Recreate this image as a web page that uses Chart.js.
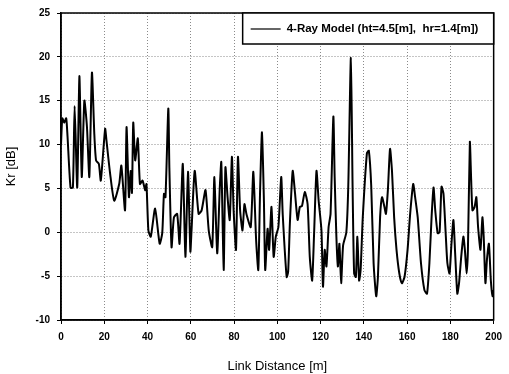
<!DOCTYPE html>
<html>
<head>
<meta charset="utf-8">
<title>Kr vs Link Distance</title>
<script src="https://cdn.jsdelivr.net/npm/chart.js@4/dist/chart.umd.min.js"></script>
<style>
html, body { margin: 0; padding: 0; background: #fff; }
#wrap { width: 509px; height: 374px; }
</style>
</head>
<body>
<div id="wrap"><canvas id="krplot"></canvas></div>
<script>
// link distance [m] and Kr [dB]
var distance = [
  0, 0.6, 1.5, 2.4, 3, 4.4, 5.5, 6.3, 7.5, 8.5, 9.6, 10.8, 12, 13.1, 14.3, 15.4, 16.2, 17.5, 18.4, 20.4,
  21, 22.7, 24.6, 26.9, 27.9, 29.6, 30.3, 31.4, 32.2, 32.8, 33.4, 34.3, 35.5, 36.5, 37.7, 38.9, 39.5, 40.4, 41.5, 43.5,
  45.6, 46.8, 47.6, 48.3, 49.6, 50.1, 51.1, 52.2, 53.7, 54.8, 56.3, 57.5, 58.7, 59.8, 60.3, 61.8, 63.6, 65, 66.8, 68.3,
  69.9, 70.9, 72.2, 73.4, 74.1, 75.2, 76, 77, 78, 79, 79.8, 80.9, 81.8, 82.8, 83.9, 84.8, 85.8, 87.7, 88.9, 90.2,
  91.2, 92, 92.9, 93.8, 94.4, 95.5, 96.2, 97.3, 98.3, 99.3, 100.5, 101.8, 102.5, 104.3, 105, 105.8, 107.1, 108.2, 109.4, 110.4,
  111.4, 112.7, 114, 115, 116.1, 117, 118.1, 119.1, 120.4, 121.1, 121.9, 122.7, 123.7, 124.6, 125.9, 126.5, 127.3, 128, 128.7, 129.5,
  130.4, 131.9, 132.8, 134, 134.8, 135.5, 136.3, 137, 137.8, 138.5, 139.5, 141.4, 142.3, 143.4, 144.5, 145.7, 146.5, 147.5, 148.4, 149.5,
  150.2, 151.1, 152.1, 153, 154, 155.1, 156.4, 157.6, 158.8, 160.2, 161.4, 162.8, 163.7, 164.9, 166.4, 168, 169.2, 170.3, 171.3, 172.2,
  173, 174.1, 175, 175.9, 176.8, 177.9, 178.6, 179.6, 180.5, 181.4, 182.2, 183.2, 184, 185, 186, 186.7, 187.5, 188.1, 189, 189.6,
  190.2, 191.2, 192, 192.8, 193.9, 194.8, 195.4, 196.2, 196.9, 197.8, 198.7, 199.5, 200
];
var kr = [
  10, 13, 12.5, 13, 11, 5.1, 5.1, 14.4, 5.1, 17.8, 6.3, 15, 12, 6.3, 18.2, 11.2, 8.2, 7.8, 5.9, 11.8,
  10.5, 6.7, 3.6, 5.5, 7.6, 2.5, 12, 4, 7, 4.5, 12.5, 8.2, 10.7, 5.5, 5.9, 4.8, 5.5, 0.2, -0.5, 2.7,
  -1.3, -0.1, 4.4, 4, 14.1, 7.3, -1.7, 1.7, 2.1, -1.3, 7.8, -2.8, 6.9, -2.2, 0, 7, 2.1, 2.5, 4.8, 0.2,
  -1.7, 6.3, -2.4, 5.1, 8, -4.3, 7.4, 4, 1.4, 8.6, 2.5, -2, 8.6, 2.5, 0.2, 3.2, 2, 0.6, 6.9, -0.9,
  -4.3, 4.4, 11.4, 3.6, -4.3, 0.4, -2, 2.9, -2.8, -0.5, 0.6, 6.3, 2, -5.1, -4.5, 1, 7, 4.4, 1.4, 2.9,
  3, 4.6, 3.2, -2.8, -5.5, -0.1, 7, 3.6, 0.2, -6.2, -2, -3.9, 0.6, 2.1, 13.2, 6.3, -0.5, -3.9, -1.3, -5.8,
  -1.5, 0, 5.3, 19.9, 5, -4.7, -5.1, -0.5, -5.5, -4.3, 1.7, 9, 9.3, 5.3, -3.5, -7.3, -5.1, 1.7, 4, 2.9,
  2.1, 4.8, 9.5, 7, 1.7, -2, -4.7, -5.8, -5.1, -2, 2.1, 5.5, 4, 1.7, -3.5, -6.6, -7, -3.5, 1.7, 5.1,
  2.5, -0.1, 0, 5.2, 4.4, -0.5, -3.5, -4.7, -1.3, 1.4, -2.4, -7, -5.8, -2.8, -0.5, -2, -4.7, -2, 10.3, 6,
  2.5, 2.9, 4, 0.6, -2, 1.7, -0.5, -5.8, -3.1, -1.3, -5.5, -7.3, -6.6
];
var xTicks = [0, 20, 40, 60, 80, 100, 120, 140, 160, 180, 200];
var yTicks = [-10, -5, 0, 5, 10, 15, 20, 25];
var seriesName = "4-Ray Model (ht=4.5[m],  hr=1.4[m])";

var points = [];
for (var i = 0; i < distance.length; i++) {
  points.push({x: distance[i], y: kr[i]});
}

// frame round the plot and the boxed legend in the top right corner
var framePlugin = {
  id: 'frame',
  afterDatasetsDraw: function(chart) {
    var a = chart.chartArea;
    var ctx = chart.ctx;
    ctx.save();
    ctx.strokeStyle = '#000';
    ctx.lineWidth = 1.5;
    ctx.strokeRect(a.left, a.top, a.right - a.left, a.bottom - a.top);

    var bw = 251, bh = 31;
    var bx = a.right - bw, by = a.top;
    ctx.fillStyle = '#fff';
    ctx.fillRect(bx, by, bw, bh);
    ctx.strokeRect(bx, by, bw, bh);
    ctx.beginPath();
    ctx.lineWidth = 1.2;
    ctx.moveTo(bx + 8, by + 16);
    ctx.lineTo(bx + 38, by + 16);
    ctx.stroke();
    ctx.fillStyle = '#000';
    ctx.font = 'bold 11.5px "Liberation Sans", Arial, sans-serif';
    ctx.textBaseline = 'middle';
    ctx.fillText(seriesName, bx + 44, by + 16);
    ctx.restore();
  }
};

function fixedTicks(list) {
  return function(scale) {
    scale.ticks = list.map(function(v) { return {value: v}; });
  };
}

var tickFont = {family: '"Liberation Sans", Arial, sans-serif', size: 10, weight: 'bold'};
var titleFont = {family: '"Liberation Sans", Arial, sans-serif', size: 13};

new Chart(document.getElementById('krplot'), {
  type: 'line',
  data: {
    datasets: [{
      label: seriesName,
      data: points,
      borderColor: '#000',
      borderWidth: 2,
      pointRadius: 0,
      tension: 0.2,
      fill: false
    }]
  },
  options: {
    responsive: true,
    maintainAspectRatio: false,
    animation: false,
    layout: {padding: {left: 0, top: 12, right: 11, bottom: 0}},
    plugins: {
      legend: {display: false},
      tooltip: {enabled: false}
    },
    scales: {
      x: {
        type: 'linear',
        min: 0,
        max: 200,
        afterBuildTicks: fixedTicks(xTicks),
        afterFit: function(s) { s.height = 54; },
        grid: {color: '#8a8a8a', lineWidth: 1, tickColor: '#000', tickLength: 4},
        border: {display: true, color: '#000', width: 1.5, dash: [1, 2]},
        ticks: {color: '#000', font: tickFont, padding: 7, maxRotation: 0},
        title: {display: true, text: 'Link Distance [m]', color: '#000', font: titleFont, padding: {top: 5, bottom: 0}}
      },
      y: {
        min: -10,
        max: 25,
        afterBuildTicks: fixedTicks(yTicks),
        afterFit: function(s) { s.width = 61; },
        grid: {color: '#8a8a8a', lineWidth: 1, tickColor: '#000', tickLength: 4},
        border: {display: true, color: '#000', width: 1.5, dash: [1, 2]},
        ticks: {color: '#000', font: tickFont, padding: 7},
        title: {display: true, text: 'Kr [dB]', color: '#000', font: titleFont, padding: {top: 4, bottom: 0}}
      }
    }
  },
  plugins: [framePlugin]
});
</script>
</body>
</html>
